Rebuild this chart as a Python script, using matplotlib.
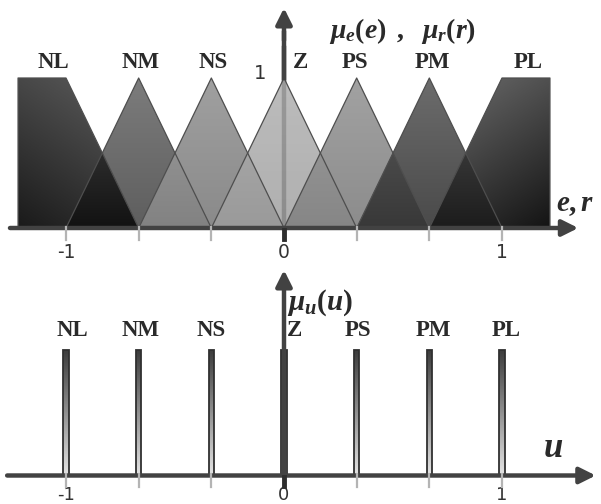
import matplotlib
matplotlib.use("Agg")
import matplotlib.pyplot as plt
import numpy as np
from matplotlib.colors import LinearSegmentedColormap
from matplotlib.patches import Polygon

plt.rcParams['mathtext.fontset'] = 'custom'
plt.rcParams['mathtext.it'] = 'Liberation Serif:italic:bold'
plt.rcParams['mathtext.rm'] = 'Liberation Serif:bold'
plt.rcParams['mathtext.bf'] = 'Liberation Serif:italic:bold'

# fuzzy sets (same names for inputs e, r and output u)
labels = ['NL', 'NM', 'NS', 'Z', 'PS', 'PM', 'PL']
centers = [-1.0, -2 / 3, -1 / 3, 0.0, 1 / 3, 2 / 3, 1.0]
half_width = 1 / 3
outer_edge = 1.22          # end of the NL / PL shoulders
tick_labels = {-1: '-1', 0: '0', 1: '1'}
singleton_height = [1, 1, 1, 1, 1, 1, 1]

# styles
set_colors = [('#606060', '#1a1a1a'), ('#7c7c7c', '#5e5e5e'), ('#a0a0a0', '#8a8a8a'),
              ('#aeaeae', '#9e9e9e'), ('#a2a2a2', '#8c8c8c'), ('#6c6c6c', '#4a4a4a'),
              ('#707070', '#141414')]
overlap_colors = [('#2c2c2c', '#121212'), ('#909090', '#828282'), ('#a4a4a4', '#9a9a9a'),
                  ('#929292', '#868686'), ('#4a4a4a', '#383838'), ('#363636', '#1c1c1c')]
top_dx = [-0.06, 0.01, 0.01, 0.075, -0.01, 0.012, 0.12]
bot_dx = [0.03, 0.01, 0.0, 0.05, 0.008, 0.02, 0.02]
AX_C = '#424242'
TXT_C = '#2a2a2a'


def set_vertices(i):
    c = centers[i]
    if i == 0:
        return np.array([[-outer_edge, 0], [-outer_edge, 1], [c, 1], [c + half_width, 0]])
    if i == len(centers) - 1:
        return np.array([[c - half_width, 0], [c, 1], [outer_edge, 1], [outer_edge, 0]])
    return np.array([[c - half_width, 0], [c, 1], [c + half_width, 0]])


def membership(i, x):
    v = set_vertices(i)
    return np.interp(x, v[:, 0], v[:, 1], left=0, right=0)


def shade(ax, verts, c_top, c_bot, z, alpha=1.0, diag=0.0):
    poly = Polygon(verts, closed=True, facecolor='none', edgecolor='none')
    ax.add_patch(poly)
    x0, x1 = verts[:, 0].min(), verts[:, 0].max()
    y0, y1 = verts[:, 1].min(), verts[:, 1].max()
    gy, gx = np.mgrid[0:1:128j, 0:1:64j]
    if diag > 0:
        grad = (1 - diag) * gy + diag * gx
    elif diag < 0:
        grad = (1 + diag) * gy - diag * (1 - gx)
    else:
        grad = gy
    cmap = LinearSegmentedColormap.from_list('g', [c_bot, c_top])
    im = ax.imshow(grad, cmap=cmap, extent=(x0, x1, y0, y1), origin='lower',
                   aspect='auto', zorder=z, alpha=alpha, interpolation='bilinear')
    im.set_clip_path(poly)


def arrow(ax, start, tip):
    ax.annotate('', xy=tip, xytext=start,
                arrowprops=dict(arrowstyle='-|>', lw=3.2, color=AX_C,
                                mutation_scale=24, shrinkA=0, shrinkB=0),
                zorder=8)


fig = plt.figure(figsize=(6.01, 5.04), dpi=100)
px_per_unit = 218
xlim = (-284 / px_per_unit, 317 / px_per_unit)

# ---------- top: triangular sets for e and r ----------
ax1 = fig.add_axes([0, 245 / 504, 1, 259 / 504])
ax1.set_xlim(*xlim)
ax1.set_ylim(-31 / 150, 228 / 150)
ax1.axis('off')

ax1.plot([0, 0], [0, 1.2], color=AX_C, lw=3.2, zorder=0)
for i in range(len(labels)):
    diag = 0.35 if i == 0 else (-0.35 if i == len(labels) - 1 else 0.0)
    alpha = 0.82 if labels[i] == 'Z' else 1.0
    shade(ax1, set_vertices(i), set_colors[i][0], set_colors[i][1], 1 + i * 0.01, alpha, diag)

xx = np.linspace(-outer_edge, outer_edge, 2001)
for i in range(len(labels) - 1):
    m = np.minimum(membership(i, xx), membership(i + 1, xx))
    keep = m > 0
    verts = np.column_stack([np.r_[xx[keep], xx[keep][::-1]],
                             np.r_[m[keep], np.zeros(keep.sum())]])
    shade(ax1, verts, overlap_colors[i][0], overlap_colors[i][1], 2)

for i in range(len(labels)):
    v = set_vertices(i)
    ax1.plot(v[:, 0], v[:, 1], color='#4e4e4e', lw=0.9, zorder=3)
    ax1.text(centers[i] + top_dx[i], 1.10, labels[i], ha='center', va='center',
             family='Liberation Serif', weight='bold', fontsize=16.5, color=TXT_C)

ax1.plot([0, 0], [1.0, 1.3], color=AX_C, lw=3.2, zorder=7)
arrow(ax1, (0, 1.25), (0, 220 / 150))
arrow(ax1, (-1.257, 0), (1.35, 0))
for c in centers:
    if c == 0:
        ax1.plot([0, 0], [-0.01, -0.07], color='#2e2e2e', lw=3.5, zorder=9)
    else:
        ax1.plot([c, c], [0.01, -0.08], color='#b4b4b4', lw=1.6, zorder=9)
for v, t in tick_labels.items():
    ax1.text(v, -0.165, t, ha='center', va='center', fontsize=13.5, color='#333333')
ax1.text(-0.11, 1.03, '1', ha='center', va='center', fontsize=14, color='#333333')
ax1.text(0.205, 1.315, r'$\mu_e(e)\ \,,\ \ \mu_r(r)$',
         ha='left', va='center', fontsize=20, color=TXT_C)
ax1.text(1.335, 0.16, r'$e,r$', ha='center', va='center', fontsize=21, color=TXT_C)

# ---------- bottom: singletons for u ----------
ax2 = fig.add_axes([0, 0, 1, 245 / 504])
ax2.set_xlim(*xlim)
ax2.set_ylim(-28.5 / 126, 216.5 / 126)
ax2.axis('off')

bars = ax2.bar(centers, singleton_height, width=0.025, facecolor='none',
               edgecolor='#303030', lw=1.3, zorder=4)
for b in bars:
    x0, w, h = b.get_x(), b.get_width(), b.get_height()
    verts = np.array([[x0, 0], [x0, h], [x0 + w, h], [x0 + w, 0]])
    shade(ax2, verts, '#3a3a3a', '#e4e4e4', 3)

arrow(ax2, (0, 0), (0, 205.5 / 126))
arrow(ax2, (-1.27, 0), (1.43, 0))
for c in centers:
    if c == 0:
        ax2.plot([0, 0], [-0.01, -0.08], color='#2e2e2e', lw=3.5, zorder=9)
    else:
        ax2.plot([c, c], [0.01, -0.09], color='#b4b4b4', lw=1.6, zorder=9)
for i in range(len(labels)):
    ax2.text(centers[i] + bot_dx[i], 1.147, labels[i], ha='center', va='center',
             family='Liberation Serif', weight='bold', fontsize=16.5, color=TXT_C)
for v, t in tick_labels.items():
    ax2.text(v, -0.152, t, ha='center', va='center', fontsize=13, color='#333333')
ax2.text(0.012, 1.37, r'$\mu_u(u)$', ha='left', va='center', fontsize=21, color=TXT_C)
ax2.text(1.235, 0.23, r'$u$', ha='center', va='center', fontsize=25, color=TXT_C)

fig.savefig('out.png', dpi=100)
